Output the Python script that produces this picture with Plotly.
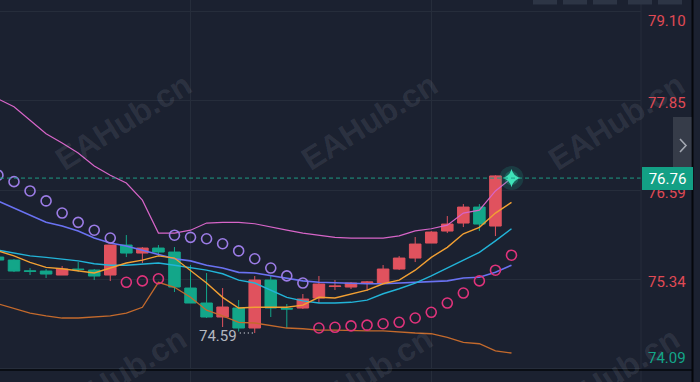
import plotly.graph_objects as go

# ---------------- data ----------------
candle_idx = list(range(-1, 31))
opens = [75.654, 75.612, 75.461, 75.458, 75.402, 75.486, 75.472, 75.402, 75.822, 75.710,
         75.780, 75.724, 75.220, 75.010, 74.814, 74.940, 74.660, 75.332, 74.933, 74.940,
         75.080, 75.241, 75.234, 75.290, 75.290, 75.486, 75.640, 75.850, 76.018, 76.130,
         76.354, 76.088]
highs = [75.682, 75.626, 75.500, 75.486, 75.528, 75.584, 75.486, 75.822, 75.962, 75.794,
         75.822, 75.794, 75.542, 75.430, 75.220, 75.052, 75.388, 75.388, 74.996, 75.136,
         75.388, 75.332, 75.304, 75.318, 75.542, 75.668, 75.934, 76.018, 76.228, 76.396,
         76.396, 76.800]
lows = [75.584, 75.444, 75.402, 75.360, 75.402, 75.444, 75.332, 75.318, 75.654, 75.570,
        75.668, 75.164, 75.010, 74.800, 74.674, 74.611, 74.590, 74.814, 74.660, 74.926,
        75.010, 75.192, 75.206, 75.178, 75.290, 75.472, 75.584, 75.850, 75.990, 76.074,
        76.018, 75.948]
closes = [75.612, 75.458, 75.454, 75.416, 75.486, 75.479, 75.388, 75.822, 75.710, 75.780,
          75.724, 75.234, 75.010, 74.814, 74.954, 74.660, 75.332, 74.940, 74.926, 75.066,
          75.276, 75.248, 75.290, 75.304, 75.486, 75.640, 75.836, 76.004, 76.116, 76.354,
          76.116, 76.790]

ind_idx = list(range(-1, 32))
bb_upper = [77.87, 77.76, 77.57, 77.38, 77.25, 77.11, 76.93, 76.80, 76.69, 76.45, 75.99,
            75.99, 76.03, 76.13, 76.14, 76.14, 76.12, 76.07, 76.03, 75.99, 75.96, 75.93,
            75.92, 75.92, 75.92, 75.95, 76.02, 76.05, 76.10, 76.27, 76.31, 76.58, 76.76]
ma_blue = [76.44, 76.34, 76.24, 76.14, 76.09, 76.02, 75.92, 75.85, 75.81, 75.75, 75.70,
           75.63, 75.60, 75.54, 75.50, 75.44, 75.43, 75.39, 75.35, 75.32, 75.30, 75.29,
           75.28, 75.28, 75.28, 75.29, 75.29, 75.30, 75.32, 75.36, 75.37, 75.44, 75.54]
ma_cyan = [75.75, 75.71, 75.67, 75.65, 75.63, 75.60, 75.56, 75.54, 75.54, 75.56, 75.57,
           75.54, 75.51, 75.47, 75.42, 75.33, 75.29, 75.19, 75.09, 75.04, 75.01, 75.01,
           75.02, 75.05, 75.14, 75.21, 75.29, 75.39, 75.50, 75.61, 75.72, 75.88, 76.05]
ma_orange = [75.74, 75.67, 75.58, 75.51, 75.49, 75.46, 75.43, 75.50, 75.57, 75.61, 75.67,
             75.64, 75.46, 75.29, 75.09, 74.94, 74.95, 74.95, 74.95, 74.98, 75.09, 75.08,
             75.14, 75.19, 75.28, 75.33, 75.47, 75.65, 75.79, 75.98, 76.07, 76.27, 76.42]
bb_lower = [75.00, 74.93, 74.87, 74.83, 74.80, 74.80, 74.81, 74.83, 74.87, 74.95, 75.30,
            75.23, 75.09, 74.91, 74.83, 74.74, 74.73, 74.69, 74.66, 74.65, 74.63, 74.63,
            74.62, 74.62, 74.62, 74.60, 74.59, 74.58, 74.53, 74.46, 74.44, 74.34, 74.31]
sar_above = [76.80, 76.71, 76.58, 76.44, 76.27, 76.14, 76.03, 75.92, None, None, None,
             75.96, 75.93, 75.91, 75.84, 75.74, 75.63, 75.50, 75.39, 75.29, None, None,
             None, None, None, None, None, None, None, None, None, None, None]
sar_below = [None, None, None, None, None, None, None, None, 75.30, 75.32, 75.35,
             None, None, None, None, None, None, None, None, None, 74.66, 74.67,
             74.69, 74.70, 74.72, 74.74, 74.80, 74.88, 75.01, 75.15, 75.32, 75.47, 75.68]

last_price = 76.76
last_label = "76.76"
current_idx = 31
low_price = 74.59
low_idx = 15
low_label = "74.59"
ytick_vals = [79.10, 77.85, 76.59, 75.34, 74.09]
ytick_labels = ["79.10", "77.85", "76.59", "75.34", "74.09"]
xgrid_idx = [11, 26]
watermark_text = "EAHub.cn"

# ---------------- style ----------------
BG = "#1b2130"
GRID = "#262d3b"
RED = "#e0525e"
GREEN = "#13a689"
W, H = 700, 382
PLOT_W = 641
FONT = "Roboto, Liberation Sans, Arial"

X_RANGE = [-0.872, 39.07]
Y_RANGE = [73.904, 79.254]

def px_x(p):
    return p / PLOT_W

def px_y(p):
    return 1 - p / H

fig = go.Figure()

fig.add_trace(go.Candlestick(
    x=candle_idx, open=opens, high=highs, low=lows, close=closes,
    increasing=dict(line=dict(color=RED, width=1), fillcolor=RED),
    decreasing=dict(line=dict(color=GREEN, width=1), fillcolor=GREEN),
    whiskerwidth=0, hoverinfo="skip", showlegend=False,
))

lines = [
    (bb_lower, "#c46a2c", 1.3),
    (ma_blue, "#6a72f2", 1.6),
    (ma_cyan, "#22b4d8", 1.4),
    (ma_orange, "#f2a033", 1.4),
    (bb_upper, "#d765c8", 1.2),
]
for vals, col, w in lines:
    fig.add_trace(go.Scatter(x=ind_idx, y=vals, mode="lines",
                             line=dict(color=col, width=w),
                             hoverinfo="skip", showlegend=False))

for vals, col in [(sar_above, "#9c7ce6"), (sar_below, "#e0337b")]:
    fig.add_trace(go.Scatter(x=ind_idx, y=vals, mode="markers",
                             marker=dict(symbol="circle-open", size=10, color=col,
                                         line=dict(color=col, width=1.6)),
                             hoverinfo="skip", showlegend=False))

# glowing star at current price
fig.add_trace(go.Scatter(x=[current_idx], y=[last_price], mode="markers",
                         marker=dict(symbol="circle", size=24, color="rgba(30,200,160,0.16)"),
                         hoverinfo="skip", showlegend=False))
fig.add_trace(go.Scatter(x=[current_idx], y=[last_price], mode="markers",
                         marker=dict(symbol="circle", size=14, color="rgba(30,200,160,0.28)"),
                         hoverinfo="skip", showlegend=False))
fig.add_trace(go.Scatter(x=[current_idx], y=[last_price], mode="markers",
                         marker=dict(symbol="star-diamond", size=13, color="#3fe3b9"),
                         hoverinfo="skip", showlegend=False))

shapes = []
# current price dashed line
shapes.append(dict(type="line", xref="paper", yref="y", x0=0, x1=1, y0=last_price, y1=last_price,
                   line=dict(color="#1e9c84", width=1, dash="4px,3px")))
# right border of plot area
shapes.append(dict(type="line", xref="paper", yref="paper", x0=1, x1=1, y0=0, y1=1,
                   line=dict(color=GRID, width=1)))
# separator line at bottom
shapes.append(dict(type="line", xref="paper", yref="paper", x0=0, x1=px_x(693),
                   y0=px_y(370), y1=px_y(370), line=dict(color="#05070b", width=1.5)))
# right black border
shapes.append(dict(type="line", xref="paper", yref="paper", x0=px_x(692.5), x1=px_x(692.5),
                   y0=0, y1=1, line=dict(color="#05070b", width=2)))
# side tab
shapes.append(dict(type="rect", xref="paper", yref="paper", x0=px_x(673), x1=px_x(691.5),
                   y0=px_y(190), y1=px_y(117), fillcolor="#363c49", line=dict(width=0)))
shapes.append(dict(type="path", xref="paper", yref="paper",
                   path="M %f %f L %f %f L %f %f" % (px_x(680), px_y(139), px_x(686), px_y(145.5),
                                                    px_x(680), px_y(152)),
                   line=dict(color="#a3a8b2", width=1.6)))
# top buttons
for x0, x1 in [(533, 557), (563, 587), (593, 617), (628, 652), (658, 682)]:
    shapes.append(dict(type="rect", xref="paper", yref="paper", x0=px_x(x0), x1=px_x(x1),
                       y0=px_y(4.5), y1=1.05, fillcolor="#2d3545", line=dict(width=0)))
# dotted leader to the low
shapes.append(dict(type="line", xref="x", yref="y", x0=low_idx - 0.93, x1=low_idx - 0.12,
                   y0=low_price, y1=low_price, line=dict(color="#b4b8c0", width=1.3, dash="1px,3px")))

annotations = []
# watermarks
for cx, cy in [(123, 122), (369, 122), (616, 122), (118, 376), (364, 376), (611, 376)]:
    annotations.append(dict(text="<b>%s</b>" % watermark_text, xref="paper", yref="paper",
                            x=px_x(cx), y=px_y(cy), xanchor="center", yanchor="middle",
                            showarrow=False, textangle=-32,
                            font=dict(family="Liberation Sans, Arial", size=32,
                                      color="rgba(200,205,220,0.11)")))
# y tick labels (outside plot on the right)
ppu = H / (Y_RANGE[1] - Y_RANGE[0])
for v, lab in zip(ytick_vals, ytick_labels):
    cpx = (Y_RANGE[1] - v) * ppu + 3
    cpx = min(max(cpx, 21), 358)
    col = GREEN if v == min(ytick_vals) else "#e04a55"
    annotations.append(dict(text=lab, xref="paper", yref="paper", x=px_x(646), y=px_y(cpx),
                            xanchor="left", yanchor="middle", showarrow=False,
                            font=dict(family=FONT, size=15, color=col)))
# current price box
annotations.append(dict(text=last_label, xref="paper", yref="y", x=px_x(642), y=last_price,
                        xanchor="left", yanchor="middle", showarrow=False,
                        width=51, height=23, borderpad=0, borderwidth=0, bgcolor="#13a085",
                        align="center", font=dict(family=FONT, size=15, color="#ffffff")))
# low label
annotations.append(dict(text=low_label, xref="x", yref="y", x=low_idx - 0.97, y=low_price,
                        xanchor="right", yanchor="middle", yshift=-3, showarrow=False,
                        font=dict(family=FONT, size=15, color="#b4b8c0")))

fig.update_layout(
    width=W, height=H, margin=dict(l=0, r=W - PLOT_W, t=0, b=0, pad=0),
    paper_bgcolor=BG, plot_bgcolor=BG, showlegend=False,
    boxgap=0.28, boxgroupgap=0,
    shapes=shapes, annotations=annotations,
)
fig.update_xaxes(range=X_RANGE, rangeslider_visible=False, showticklabels=False,
                 tickvals=xgrid_idx, showgrid=True, gridcolor=GRID, gridwidth=1,
                 zeroline=False, showline=False, ticks="")
fig.update_yaxes(range=Y_RANGE, tickvals=ytick_vals, showticklabels=False, showgrid=True,
                 gridcolor=GRID, gridwidth=1, zeroline=False, showline=False, ticks="")

fig.write_html("out.html")
